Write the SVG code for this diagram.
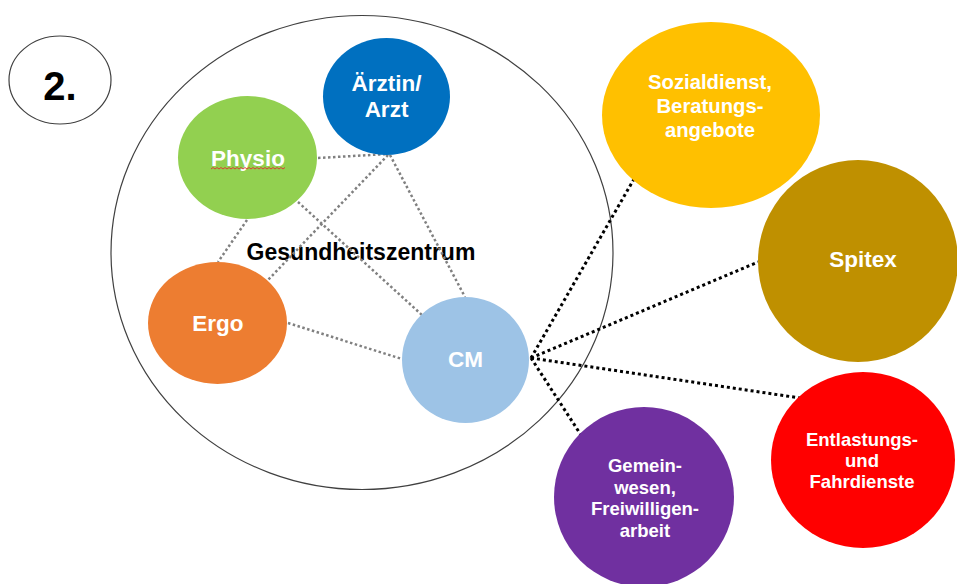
<svg xmlns="http://www.w3.org/2000/svg" width="957" height="584" viewBox="0 0 957 584">
<style>
.t{font-family:"Liberation Sans",Arial,sans-serif;font-weight:bold;text-anchor:middle;fill:#fff}
.k{fill:#000}
.g{stroke:#808080;stroke-width:2.5;stroke-dasharray:2.5 2.5;fill:none}
.b{stroke:#000;stroke-width:3;stroke-dasharray:3 3;fill:none}
.o{fill:none;stroke:#404040;stroke-width:1.2}
</style>
<rect width="957" height="584" fill="#fff"/>
<g id="number">
<ellipse class="o" cx="60" cy="80" rx="51" ry="44"/>
<text class="t k" x="60" y="100" font-size="40">2.</text>
</g>
<g id="gesundheitszentrum">
<ellipse class="o" cx="362" cy="252.5" rx="251" ry="237"/>
<text class="t k" x="361" y="260" font-size="23">Gesundheitszentrum</text>
</g>
<g id="connectors">
<line class="g" x1="318" y1="158" x2="388" y2="154"/>
<line class="g" x1="388" y1="155" x2="267" y2="281"/>
<line class="g" x1="390" y1="155" x2="465" y2="297"/>
<line class="g" x1="298" y1="202" x2="422" y2="315"/>
<line class="g" x1="247" y1="220" x2="218" y2="262"/>
<line class="g" x1="288" y1="323" x2="402" y2="359"/>
<line class="b" x1="531" y1="358" x2="634" y2="179"/>
<line class="b" x1="531" y1="358" x2="758" y2="262"/>
<line class="b" x1="531" y1="358" x2="800" y2="398"/>
<line class="b" x1="531" y1="358" x2="581" y2="435"/>
</g>
<g id="aerztin">
<ellipse cx="386.5" cy="96.5" rx="63.5" ry="58.5" fill="#0070c0"/>
<text class="t" x="386.5" y="91" font-size="22.5">Ärztin/</text>
<text class="t" x="386.5" y="117" font-size="22.5">Arzt</text>
</g>
<g id="physio">
<ellipse cx="247.5" cy="157.5" rx="69.5" ry="61.5" fill="#92d050"/>
<text class="t" x="248" y="166" font-size="22.5">Physio</text>
<path d="M211 169 l2 -1.5 2 1.5 2 -1.5 2 1.5 2 -1.5 2 1.5 2 -1.5 2 1.5 2 -1.5 2 1.5 2 -1.5 2 1.5 2 -1.5 2 1.5 2 -1.5 2 1.5 2 -1.5 2 1.5 2 -1.5 2 1.5 2 -1.5 2 1.5 2 -1.5 2 1.5 2 -1.5 2 1.5 2 -1.5 2 1.5 2 -1.5 2 1.5 2 -1.5 2 1.5 2 -1.5 2 1.5 2 -1.5 2 1.5 2 -1.5" fill="none" stroke="#e03030" stroke-width="0.9"/>
</g>
<g id="ergo">
<ellipse cx="217.5" cy="323" rx="69.5" ry="61" fill="#ed7d31"/>
<text class="t" x="218" y="331" font-size="22.5">Ergo</text>
</g>
<g id="cm">
<ellipse cx="465.5" cy="360" rx="63.5" ry="63" fill="#9dc3e6"/>
<text class="t" x="465.5" y="367" font-size="22.5">CM</text>
</g>
<g id="sozialdienst">
<ellipse cx="711" cy="115" rx="109" ry="93" fill="#ffc000"/>
<text class="t" x="710" y="89" font-size="20.3">Sozialdienst,</text>
<text class="t" x="710" y="113" font-size="20.3">Beratungs-</text>
<text class="t" x="710" y="136.5" font-size="20.3">angebote</text>
</g>
<g id="spitex">
<ellipse cx="858" cy="261" rx="100" ry="101" fill="#bf9000"/>
<text class="t" x="863" y="267" font-size="22.5">Spitex</text>
</g>
<g id="entlastung">
<ellipse cx="863" cy="460" rx="92" ry="88" fill="#ff0000"/>
<text class="t" x="862" y="446" font-size="18.5">Entlastungs-</text>
<text class="t" x="862" y="467" font-size="18.5">und</text>
<text class="t" x="862" y="488" font-size="18.5">Fahrdienste</text>
</g>
<g id="gemeinwesen">
<ellipse cx="644" cy="497" rx="90" ry="90" fill="#7030a0"/>
<text class="t" x="645" y="472" font-size="18.5">Gemein-</text>
<text class="t" x="645" y="493.5" font-size="18.5">wesen,</text>
<text class="t" x="645" y="515" font-size="18.5">Freiwilligen-</text>
<text class="t" x="645" y="537" font-size="18.5">arbeit</text>
</g>
</svg>
